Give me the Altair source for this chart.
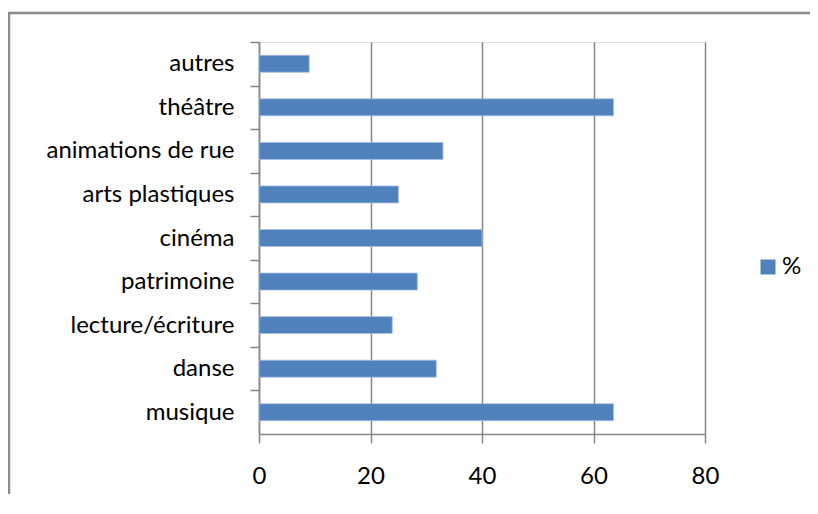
import altair as alt
import pandas as pd

categories = ["autres", "théâtre", "animations de rue", "arts plastiques", "cinéma",
              "patrimoine", "lecture/écriture", "danse", "musique"]
values = [9.0, 63.6, 33.0, 25.0, 40.0, 28.4, 23.9, 31.8, 63.6]
series = "%"
x_ticks = [0, 20, 40, 60, 80]

df = pd.DataFrame({"cat": categories, "val": values, "serie": [series] * len(categories)})

FONT = "Lato"
GRID = "#868686"
H = 392
STEP = H / len(categories)

bars = alt.Chart(df).mark_bar(color="#4F81BD", stroke="#A7BFDE", strokeWidth=0.8).encode(
    y=alt.Y("cat:N", sort=categories, title=None,
            scale=alt.Scale(paddingInner=0.61, paddingOuter=0.305),
            axis=alt.Axis(tickOffset=-STEP / 2, labelOffset=STEP / 2,
                          tickSize=9, tickColor=GRID, tickWidth=1.5,
                          domainColor=GRID, domainWidth=1.5, grid=False,
                          labelFont=FONT, labelFontSize=24, labelColor="black",
                          labelPadding=16, labelLimit=400)),
    x=alt.X("val:Q", title=None, scale=alt.Scale(domain=[0, 80], nice=False),
            axis=alt.Axis(values=x_ticks, grid=True, gridColor=GRID, gridWidth=1.5,
                          tickSize=9, tickColor=GRID, tickWidth=1.5,
                          domainColor=GRID, domainWidth=1.5, labelFlush=False,
                          labelFont=FONT, labelFontSize=24, labelColor="black",
                          labelPadding=21)),
    color=alt.Color("serie:N", scale=alt.Scale(range=["#4F81BD"]),
                    legend=alt.Legend(title=None, orient="none", legendX=497, legendY=213,
                                      symbolType="square", symbolSize=225,
                                      symbolStrokeWidth=0, labelFont=FONT,
                                      labelFontSize=24, labelColor="black",
                                      labelOffset=2, padding=0)),
)

frame = alt.Chart(alt.Data(values=[{}])).mark_rect(
    fill=None, stroke="#8C8C8C", strokeWidth=2.5
).encode(
    x=alt.value(-250), x2=alt.value(700), y=alt.value(-29), y2=alt.value(700)
)

chart = alt.layer(frame, bars).properties(
    width=446, height=H,
    padding={"left": 251, "top": 34, "right": 105, "bottom": 60},
    autosize=alt.AutoSizeParams(type="none"),
).configure_view(stroke=None).configure(background="white")

chart.save("out.html", embed_options={"renderer": "svg", "actions": False})
